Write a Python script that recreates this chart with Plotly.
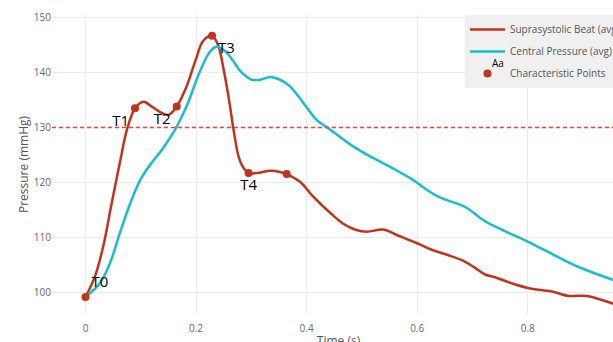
import plotly.graph_objects as go

# Suprasystolic beat (avg)
supra_t = [0.000, 0.017, 0.032, 0.047, 0.056, 0.065, 0.075, 0.0896, 0.105, 0.120, 0.135, 0.150,
           0.165, 0.183, 0.200, 0.213, 0.229, 0.240, 0.250, 0.260, 0.268, 0.277, 0.286, 0.295,
           0.310, 0.334, 0.352, 0.364, 0.388, 0.412, 0.443, 0.467, 0.490, 0.509, 0.539, 0.563,
           0.600, 0.624, 0.660, 0.681, 0.702, 0.723, 0.741, 0.771, 0.798, 0.820, 0.844, 0.874,
           0.907, 0.955, 0.976]
supra_p = [99.1, 102.8, 108.3, 116.0, 120.5, 125.0, 129.6, 133.5, 134.7, 133.8, 132.8, 132.3,
           133.8, 137.5, 142.5, 145.8, 146.7, 145.0, 140.5, 134.8, 129.5, 124.7, 122.6, 121.7,
           121.7, 122.1, 121.9, 121.5, 120.1, 117.4, 114.4, 112.4, 111.3, 111.0, 111.4, 110.4,
           108.9, 107.8, 106.6, 105.8, 104.6, 103.2, 102.7, 101.6, 100.8, 100.4, 100.1, 99.3,
           99.3, 97.9, 97.4]

# Central pressure (avg)
central_t = [0.000, 0.026, 0.044, 0.062, 0.081, 0.099, 0.117, 0.138, 0.162, 0.183, 0.207, 0.225,
             0.237, 0.249, 0.256, 0.268, 0.280, 0.292, 0.301, 0.316, 0.334, 0.352, 0.370, 0.397,
             0.418, 0.443, 0.485, 0.521, 0.557, 0.593, 0.618, 0.642, 0.687, 0.720, 0.750, 0.800,
             0.835, 0.868, 0.901, 0.955, 0.976]
central_p = [99.1, 101.6, 105.2, 110.7, 116.2, 120.4, 123.2, 125.9, 129.6, 133.9, 140.2, 143.8,
             144.7, 144.2, 143.6, 142.0, 140.3, 139.2, 138.7, 138.7, 139.2, 138.7, 137.5, 134.1,
             131.4, 129.6, 126.5, 124.4, 122.5, 120.4, 118.6, 117.2, 115.5, 113.1, 111.5, 109.2,
             107.4, 105.7, 104.2, 102.2, 101.5]

# Characteristic points
char_t = [0.0, 0.0896, 0.165, 0.229, 0.295, 0.364]
char_p = [99.1, 133.5, 133.8, 146.7, 121.7, 121.5]
char_labels = ["T0", "T1", "T2", "T3", "T4", ""]
char_pos = ["top right", "bottom left", "bottom left", "bottom right", "bottom center", "top center"]

threshold = 130

RED = "#c0341d"
CYAN = "#17becf"

fig = go.Figure()
fig.add_trace(go.Scatter(x=supra_t, y=supra_p, mode="lines", name="Suprasystolic Beat (avg)",
                         legendgroup="a",
                         line=dict(color=RED, width=2.5, shape="spline")))
fig.add_trace(go.Scatter(x=central_t, y=central_p, mode="lines", name="Central Pressure (avg)",
                         legendgroup="b",
                         line=dict(color=CYAN, width=2.5, shape="spline")))
fig.add_trace(go.Scatter(x=char_t, y=char_p, mode="markers+text", name="Characteristic Points",
                         legendgroup="c",
                         text=char_labels, textposition=char_pos,
                         textfont=dict(size=15, color="black"),
                         marker=dict(color=RED, size=8)))
fig.add_hline(y=threshold, line_color="#e5463a", line_width=1.5, line_dash="4px,3px")

# legend text-symbol sample shown next to the "Characteristic Points" entry
fig.add_annotation(text="Aa", xref="paper", yref="paper", x=0.779, y=0.838,
                   xanchor="center", yanchor="middle", showarrow=False,
                   font=dict(size=10, color="black"))

fig.update_layout(
    width=650, height=360,
    template="plotly_white",
    margin=dict(l=52, r=25, t=15, b=46),
    font=dict(family="Open Sans, sans-serif", size=10, color="#666"),
    plot_bgcolor="white", paper_bgcolor="white",
    legend=dict(x=1, xanchor="right", y=1, yanchor="top", bgcolor="rgba(239,239,239,0.95)",
                font=dict(size=10, color="#555"), traceorder="grouped", tracegroupgap=3,
                itemwidth=35),
)
fig.update_xaxes(title=dict(text="Time (s)", font=dict(size=12, color="#555"), standoff=2),
                 range=[-0.0606, 0.976], tickvals=[0, 0.2, 0.4, 0.6, 0.8],
                 ticklabelstandoff=7,
                 gridcolor="#ebebeb", zeroline=False, showline=False, automargin=False)
fig.update_yaxes(title=dict(text="Pressure (mmHg)", font=dict(size=12, color="#555"), standoff=2),
                 range=[96, 150.5], tickvals=[100, 110, 120, 130, 140, 150],
                 gridcolor="#ebebeb", zeroline=False, showline=False, automargin=False)

fig.write_html("out.html", config={"displayModeBar": False},
               post_script="document.body.style.margin='0';")
